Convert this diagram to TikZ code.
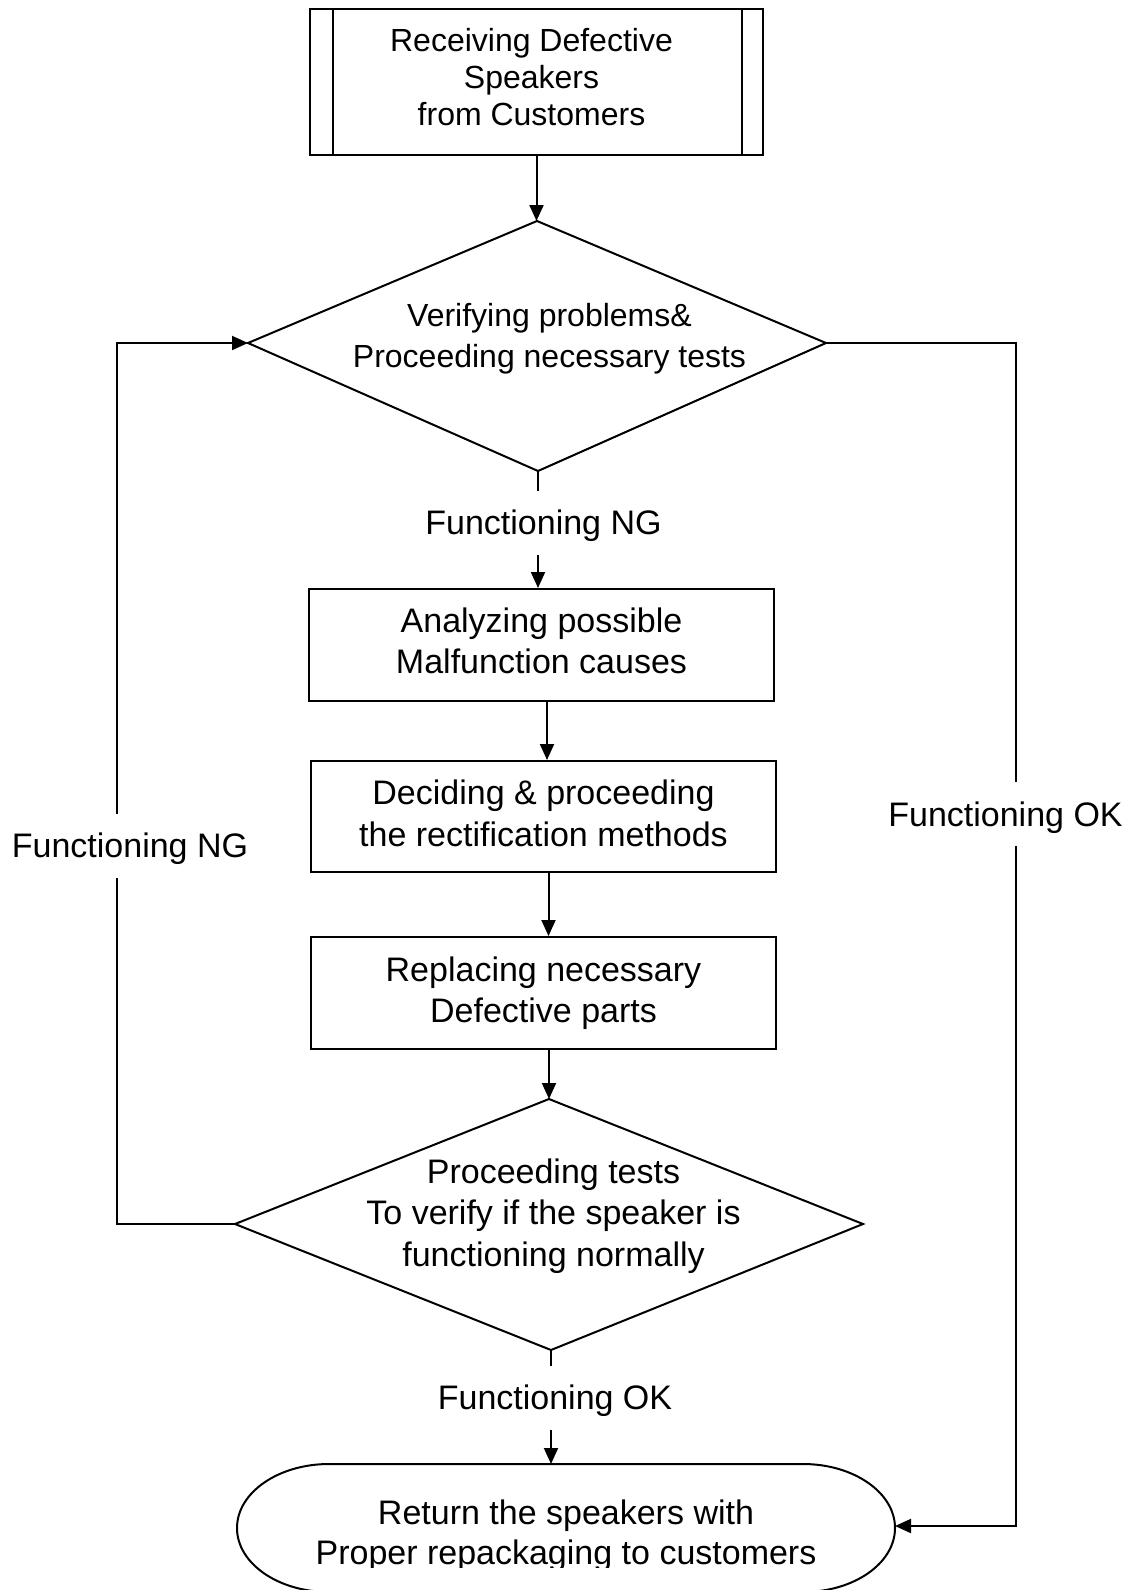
\documentclass[tikz,border=0pt]{standalone}
\usepackage{fontspec}
\setmainfont{Liberation Sans}
\usetikzlibrary{arrows.meta}
\begin{document}
\begin{tikzpicture}[x=1pt,y=1pt,
  line width=2pt,
  arr/.style={-{Triangle[length=16pt,width=14pt]}},
  procbox/.style={draw, minimum width=465pt, minimum height=112pt, inner sep=0pt},
  boxtext/.style={align=center, inner sep=0pt, font=\fontsize{34}{41.6}\selectfont},
  lbl/.style={inner sep=0pt, minimum height=62pt, text height=24.5pt, text depth=0pt, font=\fontsize{34}{40}\selectfont},
  dtext/.style={align=center, inner sep=0pt}
]
\useasboundingbox (0,0) rectangle (1136,-1590);

% top predefined process box
\node[draw, minimum width=453pt, minimum height=146pt, inner sep=0pt] (top) at (536.5,-82) {};
\draw (top.north west) ++(24,0) -- ++(0,-146);
\draw (top.north east) ++(-22,0) -- ++(0,-146);
\node[dtext, font=\fontsize{32}{37}\selectfont] (toptext) at ([xshift=-5pt,yshift=5pt]top.center)
      {Receiving Defective\\Speakers\\from Customers};

% diamond 1
\coordinate (d1t) at (537,-221);
\coordinate (d1l) at (248,-343);
\coordinate (d1r) at (826,-343);
\coordinate (d1b) at (538,-471);
\draw (d1t) -- (d1r) -- (d1b) -- (d1l) -- cycle;
\node[dtext, font=\fontsize{32}{40.6}\selectfont] (d1) at (549.5,-339)
      {Verifying problems\&\\Proceeding necessary tests};

% process boxes
\node[procbox] (box2) at (541.5,-645) {};
\node[boxtext] (box2t) at ([yshift=4pt]box2.center) {Analyzing possible\\Malfunction causes};
\node[procbox, minimum height=111pt] (box3) at (543.5,-816.5) {};
\node[boxtext] (box3t) at ([yshift=3pt]box3.center) {Deciding \& proceeding\\the rectification methods};
\node[procbox] (box4) at (543.5,-993) {};
\node[boxtext] (box4t) at (box4.center) {Replacing necessary\\Defective parts};

% diamond 2
\coordinate (d2t) at (549,-1099);
\coordinate (d2l) at (235,-1224);
\coordinate (d2r) at (863,-1224);
\coordinate (d2b) at (551,-1350);
\draw (d2t) -- (d2r) -- (d2b) -- (d2l) -- cycle;
\node[dtext, font=\fontsize{34}{41.6}\selectfont] (d2) at (553.5,-1216)
      {Proceeding tests\\To verify if the speaker is\\functioning normally};

% terminal
\coordinate (termN) at (551,-1464);
\coordinate (termE) at (895,-1526);
\draw (329,-1464) -- (803,-1464)
      arc[start angle=90, end angle=-90, x radius=92, y radius=64]
      -- (329,-1592)
      arc[start angle=270, end angle=90, x radius=92, y radius=64] -- cycle;
\begin{scope}
\clip (0,0) rectangle (1136,-1567);
\node[dtext, font=\fontsize{34}{40.6}\selectfont] (term) at (566,-1535.5)
      {Return the speakers with\\Proper repackaging to customers};
\end{scope}

% labels
\node[lbl] (ng1) at (543.5,-522.5) {Functioning NG};
\node[lbl] (ok1) at (555,-1397.5) {Functioning OK};
\node[lbl] (ngL) at (130,-845.5) {Functioning NG};
\node[lbl] (okR) at (1005.5,-814) {Functioning OK};

% main flow connectors
\draw[arr] (top.south) -- (top.south |- d1t);
\draw (d1b) -- (d1b |- ng1.north);
\draw[arr] (d1b |- ng1.south) -- (d1b |- box2.north);
\draw[arr] ([xshift=5.5pt]box2.south) -- ([xshift=5.5pt]box2.south |- box3.north);
\draw[arr] ([xshift=5pt]box3.south) -- ([xshift=5pt]box3.south |- box4.north);
\draw[arr] ([xshift=5.5pt]box4.south) -- (d2t);
\draw (d2b) -- (d2b |- ok1.north);
\draw[arr] (d2b |- ok1.south) -- (termN);

% left loop back
\coordinate (lb) at (117,-1224);
\coordinate (lt) at (117,-343);
\draw (d2l) -- (lb) -- (lb |- ngL.south);
\draw[arr] (lt |- ngL.north) -- (lt) -- (d1l);

% right bypass
\coordinate (rt) at (1016,-343);
\coordinate (rb) at (1016,-1526);
\draw (d1r) -- (rt) -- (rt |- okR.north);
\draw[arr] (rt |- okR.south) -- (rb) -- (termE);
\end{tikzpicture}
\end{document}
